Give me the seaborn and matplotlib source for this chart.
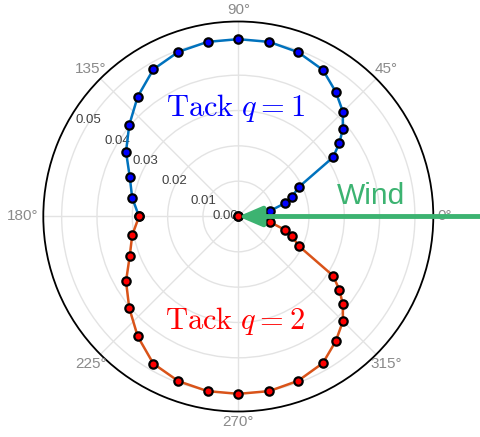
import numpy as np
import pandas as pd
import matplotlib.pyplot as plt
import seaborn as sns

# heading angle (deg) and boat speed for the two tacks
theta_q1 = [0, 10, 16, 20, 26, 32, 36, 40, 45, 52, 60, 70, 80, 90,
            100, 110, 120, 130, 140, 150, 160, 170, 180]
speed_q1 = [0.0, 0.0091, 0.0138, 0.0161, 0.0191, 0.0316, 0.0354, 0.0386,
            0.0419, 0.0448, 0.0479, 0.0495, 0.0502, 0.0502, 0.0502, 0.0496,
            0.0481, 0.0443, 0.0403, 0.0367, 0.0327, 0.0305, 0.0281]
# second tack is the mirror image of the first
theta_q2 = [360 - t for t in theta_q1]
speed_q2 = list(speed_q1)

r_ticks = [0.0, 0.01, 0.02, 0.03, 0.04, 0.05]
theta_ticks = [0, 45, 90, 135, 180, 225, 270, 315]
r_max = 0.0552

sns.set_style('white')
plt.rcParams['font.family'] = ['Liberation Sans', 'DejaVu Sans']
plt.rcParams['mathtext.fontset'] = 'cm'

fig = plt.figure(figsize=(4.81, 4.37), dpi=100)
ax = fig.add_axes([43.3 / 481, (437 - 216.5 - 195) / 437, 390 / 481, 390 / 437],
                  projection='polar')

df1 = pd.DataFrame({'th': np.deg2rad(theta_q1), 'r': speed_q1})
df2 = pd.DataFrame({'th': np.deg2rad(theta_q2), 'r': speed_q2})

sns.lineplot(data=df1, x='th', y='r', ax=ax, sort=False, estimator=None,
             color='#0072BD', lw=1.8, marker='o', markersize=6,
             markerfacecolor='#0000ff', markeredgecolor='black', markeredgewidth=1.6,
             zorder=3)
sns.lineplot(data=df2, x='th', y='r', ax=ax, sort=False, estimator=None,
             color='#D95319', lw=1.8, marker='o', markersize=6,
             markerfacecolor='#ff0000', markeredgecolor='black', markeredgewidth=1.6,
             zorder=3)

ax.set_ylim(0, r_max)
ax.set_xlabel('')
ax.set_ylabel('')
ax.set_xticks(np.deg2rad(theta_ticks))
ax.set_xticklabels([])
ax.set_yticks(r_ticks)
ax.set_yticklabels([])
ax.grid(True, color='#e3e3e3', lw=1)
ax.set_axisbelow(True)
ax.spines['polar'].set_color('black')
ax.spines['polar'].set_linewidth(1.3)

# angle labels placed just outside the rim (distance in px from centre)
R_px = 195
for t in theta_ticks:
    if t == 0:
        ha, d = 'left', 199
    elif t == 180:
        ha, d = 'right', 200
    elif t % 90 == 0:
        ha, d = 'center', 206
    else:
        ha, d = 'center', 209
    ax.text(np.deg2rad(t), r_max * d / R_px, f'{t}°', ha=ha, va='center',
            fontsize=11, color='#8a8a8a', clip_on=False)

for v in r_ticks:
    rr = max(v - 0.0025, 0)
    ang = 145 if v > 0 else 180
    ax.text(np.deg2rad(ang), rr, f'{v:.2f}', ha='right', va='center',
            fontsize=9.5, color='#404040', zorder=2)

fig.text(0.4886, 1 - 108 / 437, r'$\mathrm{Tack}\ q = 1$', color='#0000ff',
         fontsize=22, ha='center', va='center')
fig.text(0.4886, 1 - 321 / 437, r'$\mathrm{Tack}\ q = 2$', color='#ff0000',
         fontsize=22, ha='center', va='center')

green = '#3cb371'
ax.annotate('', xy=(0, 0), xycoords='data',
            xytext=(1.0, 1 - 216.5 / 437), textcoords='figure fraction',
            arrowprops=dict(arrowstyle='-|>,head_length=1.4,head_width=0.6',
                            color=green, lw=3.5, shrinkA=0, shrinkB=0),
            annotation_clip=False, zorder=4)
fig.text(371 / 481, 1 - 196 / 437, 'Wind', color=green, fontsize=21.5,
         ha='center', va='center')

fig.savefig('out.png', dpi=100)
